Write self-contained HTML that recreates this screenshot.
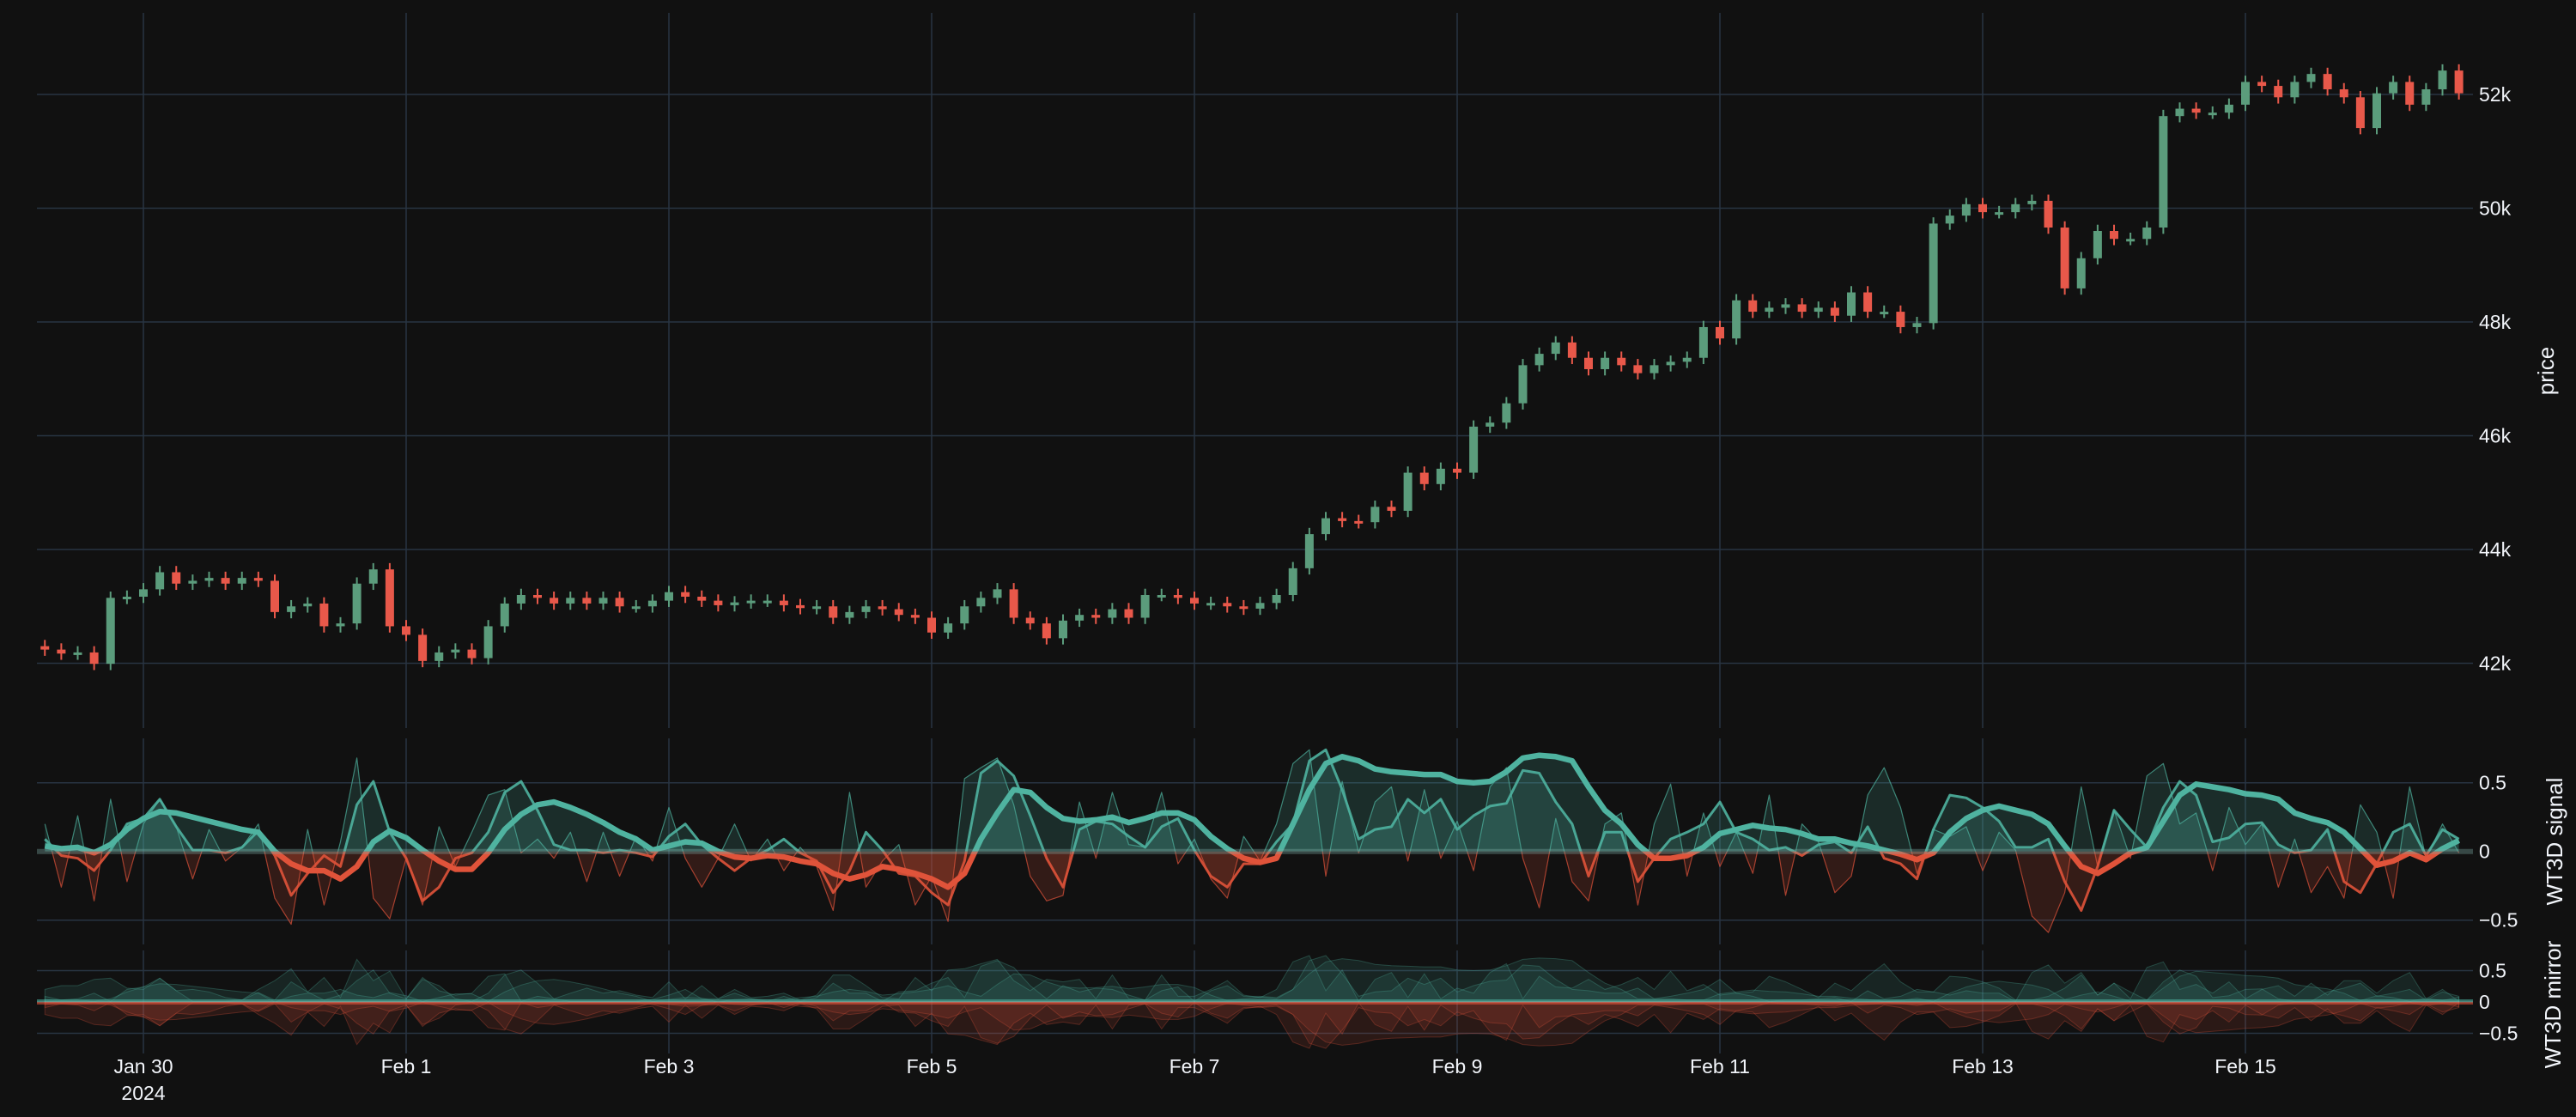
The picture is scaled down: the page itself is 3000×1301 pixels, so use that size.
<!DOCTYPE html>
<html><head><meta charset="utf-8"><style>
html,body{margin:0;padding:0;background:#111111;}
svg{display:block;font-family:"Liberation Sans",sans-serif;}
</style></head><body>
<svg id="chart" width="3000" height="1301" viewBox="0 0 3000 1301" xmlns="http://www.w3.org/2000/svg">
<rect width="3000" height="1301" fill="#111111"/>
<defs>
<clipPath id="c-main"><rect x="43" y="15" width="2837" height="833"/></clipPath>
<clipPath id="c-s2"><rect x="43" y="860" width="2837" height="240"/></clipPath>
<clipPath id="c-s2up"><rect x="43" y="860" width="2837" height="131.7"/></clipPath>
<clipPath id="c-s2dn"><rect x="43" y="991.7" width="2837" height="108.3"/></clipPath>
<clipPath id="c-s3"><rect x="43" y="1107" width="2837" height="120"/></clipPath>
</defs>
<g id="grid"></g>
<g id="main" clip-path="url(#c-main)"></g>
<g id="sub2" clip-path="url(#c-s2)"></g>
<g id="sub3" clip-path="url(#c-s3)"></g>
<g id="labels"></g>
<text x="2967" y="432" transform="rotate(-90 2967 432)" text-anchor="middle" dominant-baseline="middle" font-size="26" fill="#f2f5fa">price</text>
<text x="2977" y="980" transform="rotate(-90 2977 980)" text-anchor="middle" dominant-baseline="middle" font-size="26" fill="#f2f5fa">WT3D signal</text>
<text x="2975" y="1170" transform="rotate(-90 2975 1170)" text-anchor="middle" dominant-baseline="middle" font-size="26" fill="#f2f5fa">WT3D mirror</text>
</svg>
<script>
// ---- data ----
const startTime = Date.UTC(2024,0,29,6);
const stepHours = 3;
const closes = [42.24,42.17,42.19,41.99,43.15,43.17,43.3,43.6,43.4,43.45,43.5,43.4,43.5,43.45,42.9,43.0,43.05,42.65,42.7,43.4,43.65,42.65,42.5,42.04,42.19,42.24,42.09,42.65,43.05,43.2,43.15,43.05,43.15,43.05,43.15,43.0,43.0,43.1,43.25,43.17,43.1,43.02,43.07,43.1,43.1,43.02,42.97,43.0,42.8,42.9,43.0,42.95,42.85,42.8,42.54,42.7,43.0,43.15,43.3,42.8,42.7,42.44,42.75,42.85,42.8,42.95,42.8,43.2,43.2,43.15,43.05,43.06,43.0,42.96,43.06,43.2,43.67,44.27,44.55,44.5,44.48,44.75,44.68,45.35,45.15,45.42,45.35,46.16,46.23,46.57,47.24,47.44,47.64,47.37,47.17,47.37,47.24,47.1,47.24,47.3,47.37,47.91,47.71,48.38,48.18,48.25,48.31,48.18,48.25,48.11,48.52,48.18,48.18,47.91,47.98,49.73,49.87,50.07,49.93,49.93,50.07,50.13,49.66,48.59,49.12,49.6,49.46,49.46,49.66,51.62,51.75,51.68,51.68,51.82,52.22,52.15,51.95,52.22,52.36,52.09,51.95,51.41,52.02,52.22,51.82,52.09,52.42,52.02];
const firstOpen = 42.3;
const wtFast = [.20,-.26,.26,-.36,.38,-.22,.20,.38,.18,-.20,.16,-.07,.03,.20,-.34,-.53,.16,-.39,.07,.68,-.34,-.49,-.05,-.39,.18,-.11,.14,.41,.45,-.01,.09,-.05,.14,-.22,.14,-.18,.11,-.07,.32,-.05,-.26,-.05,.20,-.07,.09,-.14,.03,-.11,-.43,.43,-.26,-.07,.05,-.39,-.18,-.51,.53,.61,.68,.34,-.18,-.36,-.32,.36,-.05,.43,.05,.03,.43,-.09,.09,-.20,-.34,.11,-.07,.20,.64,.74,-.18,.51,-.01,.36,.47,-.07,.45,-.05,.22,-.14,.47,.61,-.05,-.41,.24,-.22,-.36,.20,.28,-.39,.20,.49,-.18,.28,-.11,.14,-.16,.41,-.32,.20,.07,-.30,-.18,.41,.61,.32,-.16,.16,.11,.18,-.14,.14,.01,-.47,-.59,-.30,.47,-.11,.30,-.05,.55,.64,.20,.28,-.14,.32,.05,.20,-.26,.09,-.30,-.11,-.34,.34,.14,-.34,.47,-.05,.20,-.01];
const wtMid = [.09,-.03,-.05,-.14,.01,.20,.24,.38,.18,.01,.01,-.01,.03,.15,-.03,-.32,-.16,-.03,-.11,.34,.51,.14,-.05,-.36,-.26,-.05,-.01,.14,.43,.51,.30,.05,.01,.01,-.01,.01,-.01,-.04,.11,.20,.05,-.05,-.14,-.05,.01,.09,-.01,-.07,-.30,-.14,.14,.01,-.16,-.18,-.30,-.39,-.07,.57,.66,.55,.26,-.05,-.26,.16,.22,.20,.11,.03,.18,.24,.01,-.18,-.26,-.09,-.09,.07,.20,.66,.74,.45,.09,.16,.18,.38,.28,.38,.16,.26,.33,.35,.59,.57,.36,.20,-.18,.14,.14,-.22,-.05,.09,.14,.20,.36,.14,.09,.01,.03,-.03,.05,.07,-.01,.18,-.05,-.09,-.20,.16,.41,.39,.32,.22,.03,.03,.09,-.22,-.43,-.11,.30,.16,.03,.32,.51,.41,.07,.10,.20,.21,.05,-.01,.01,.16,-.22,-.30,-.09,.14,.20,-.03,.16,.09];
const wtSlow = [.04,.02,.03,-.01,.05,.16,.24,.29,.28,.25,.22,.19,.16,.14,0,-.09,-.14,-.14,-.20,-.11,.07,.15,.10,.01,-.07,-.13,-.13,-.01,.16,.27,.34,.36,.32,.27,.21,.14,.09,.01,.04,.07,.06,0,-.04,-.05,-.03,-.04,-.07,-.09,-.16,-.20,-.17,-.11,-.13,-.16,-.20,-.26,-.16,.09,.28,.45,.43,.32,.24,.22,.23,.25,.21,.24,.28,.28,.23,.11,.02,-.05,-.08,-.05,.20,.45,.64,.69,.66,.60,.58,.57,.56,.56,.51,.50,.51,.58,.68,.70,.69,.66,.47,.30,.20,.05,-.05,-.05,-.03,.03,.13,.16,.19,.17,.16,.13,.09,.09,.06,.04,.01,-.02,-.06,-.01,.14,.24,.30,.33,.30,.27,.20,.04,-.11,-.16,-.09,-.01,.03,.22,.41,.49,.47,.45,.42,.41,.38,.28,.24,.21,.14,.02,-.10,-.07,-.01,-.06,.02,.08];
const priceTicks = [42000,44000,46000,48000,50000,52000];
const priceTickLabels = ["42k","44k","46k","48k","50k","52k"];
const wtTicks = [-0.5,0,0.5];
const wtTickLabels = ["\u22120.5","0","0.5"];
const dateTicks = [Date.UTC(2024,0,30),Date.UTC(2024,1,1),Date.UTC(2024,1,3),Date.UTC(2024,1,5),Date.UTC(2024,1,7),Date.UTC(2024,1,9),Date.UTC(2024,1,11),Date.UTC(2024,1,13),Date.UTC(2024,1,15)];
const dateTickLabels = ["Jan 30","Feb 1","Feb 3","Feb 5","Feb 7","Feb 9","Feb 11","Feb 13","Feb 15"];

// ---- axes ----
const NS = "http://www.w3.org/2000/svg";
const DAY = 86400000;
const x0Date = Date.UTC(2024,0,30), x0Px = 167, pxPerDay = 153;
function xScale(t){ return x0Px + (t - x0Date)/DAY*pxPerDay; }
function yPrice(p){ return 110 + (52000 - p)/2000*132.5; }
function ySig(v){ return 991.7 - v*160; }
function yMir(v){ return 1167 - v*73; }
function el(tag, attrs, parent){ const e=document.createElementNS(NS,tag); for(const k in attrs) e.setAttribute(k,attrs[k]); parent.appendChild(e); return e; }
const times = closes.map((_,i)=> startTime + i*stepHours*3600000);

const grid = document.getElementById('grid');
const labels = document.getElementById('labels');
const GRID = "#283442";
dateTicks.forEach((t,i)=>{
  const x = xScale(t);
  [[15,848],[860,1100],[1107,1227]].forEach(r=>{
    const l = el('line',{x1:x,x2:x,y1:r[0],y2:r[1],stroke:GRID,'stroke-width':1.5},grid);
    
    
  });
  const tx = el('text',{x:x,y:1250,'text-anchor':'middle','font-size':23,fill:'#f2f5fa'},labels);
  tx.textContent = dateTickLabels[i];
  
  
});
const yr = el('text',{x:xScale(dateTicks[0]),y:1281,'text-anchor':'middle','font-size':23,fill:'#f2f5fa'},labels);
yr.textContent = "2024";


priceTicks.forEach((p,i)=>{
  const y = yPrice(p);
  const l = el('line',{x1:43,x2:2880,y1:y,y2:y,stroke:GRID,'stroke-width':1.5},grid);
  
  
  const t = el('text',{x:2887,y:y+8,'font-size':23,fill:'#f2f5fa'},labels);
  t.textContent = priceTickLabels[i];
  
  
});
wtTicks.forEach((v,i)=>{
  [[ySig,'signal'],[yMir,'mirror']].forEach(pair=>{
    const y = pair[0](v);
    if(v!==0){
      const l = el('line',{x1:43,x2:2880,y1:y,y2:y,stroke:GRID,'stroke-width':1.5},grid);
      
      
    }
    const t = el('text',{x:2887,y:y+8,'font-size':23,fill:'#f2f5fa'},labels);
    t.textContent = wtTickLabels[i];
    
    
  });
});

// ---- candles ----
const main = document.getElementById('main');
const UP="#5b9c7c", DN="#e8584a";
const bodyW = 10, wickExt = 110;
closes.forEach((c,i)=>{
  const o = i===0 ? firstOpen : closes[i-1];
  const cp=c*1000, op=o*1000;
  const x = xScale(times[i]);
  const col = cp>=op ? UP : DN;
  const hi = Math.max(cp,op)+wickExt, lo = Math.min(cp,op)-wickExt;
  const w = el('line',{x1:x,x2:x,y1:yPrice(hi),y2:yPrice(lo),stroke:col,'stroke-width':2},main);
  
  
  const yt = yPrice(Math.max(cp,op)), yb = yPrice(Math.min(cp,op));
  const b = el('rect',{x:x-bodyW/2,y:yt,width:bodyW,height:Math.max(3,yb-yt),fill:col},main);
  
  
});

// ---- oscillator ----
const TEAL="#4fb3a0", RED="#e0533a";
function pathFor(vals, yf){ return vals.map((v,i)=>(i?'L':'M')+xScale(times[i]).toFixed(1)+','+yf(v).toFixed(1)).join(''); }
function areaFor(vals, yf){ const n=vals.length; return pathFor(vals,yf)+'L'+xScale(times[n-1]).toFixed(1)+','+yf(0)+'L'+xScale(times[0]).toFixed(1)+','+yf(0)+'Z'; }
const sub2 = document.getElementById('sub2');
const series = [[wtFast,1.2,0.16,0.7,'fast'],[wtMid,3,0.18,0.9,'mid'],[wtSlow,6.5,0.18,1,'slow']];
series.forEach(s=>{
  [['c-s2up',TEAL],['c-s2dn',RED]].forEach(cc=>{
    const g = el('g',{'clip-path':'url(#'+cc[0]+')'},sub2);
    const a = el('path',{d:areaFor(s[0],ySig),fill:cc[1],'fill-opacity':s[2],stroke:'none'},g);
    
    
    const l = el('path',{d:pathFor(s[0],ySig),fill:'none',stroke:cc[1],'stroke-width':s[1],'stroke-opacity':s[3],'stroke-linejoin':'round'},g);
    
    
  });
});
const z2 = el('line',{x1:43,x2:2880,y1:ySig(0),y2:ySig(0),stroke:'#7fb0a8','stroke-opacity':0.35,'stroke-width':6},sub2);



// ---- mirror ----
const sub3 = document.getElementById('sub3');
series.forEach(s=>{
  const absV = s[0].map(v=>Math.abs(v));
  const negV = s[0].map(v=>-Math.abs(v));
  const a1 = el('path',{d:areaFor(absV,yMir),fill:TEAL,'fill-opacity':0.13,stroke:TEAL,'stroke-opacity':0.3,'stroke-width':1},sub3);
  
  
  const a2 = el('path',{d:areaFor(negV,yMir),fill:RED,'fill-opacity':0.13,stroke:RED,'stroke-opacity':0.3,'stroke-width':1},sub3);
  
  
});
const z3a = el('line',{x1:43,x2:2880,y1:yMir(0)-1.5,y2:yMir(0)-1.5,stroke:TEAL,'stroke-opacity':0.6,'stroke-width':3},sub3);


const z3b = el('line',{x1:43,x2:2880,y1:yMir(0)+1.5,y2:yMir(0)+1.5,stroke:RED,'stroke-opacity':0.6,'stroke-width':3},sub3);


const z3c = el('line',{x1:43,x2:2880,y1:yMir(0),y2:yMir(0),stroke:'#c8d0d0','stroke-opacity':0.4,'stroke-width':1},sub3);


</script>
</body></html>
